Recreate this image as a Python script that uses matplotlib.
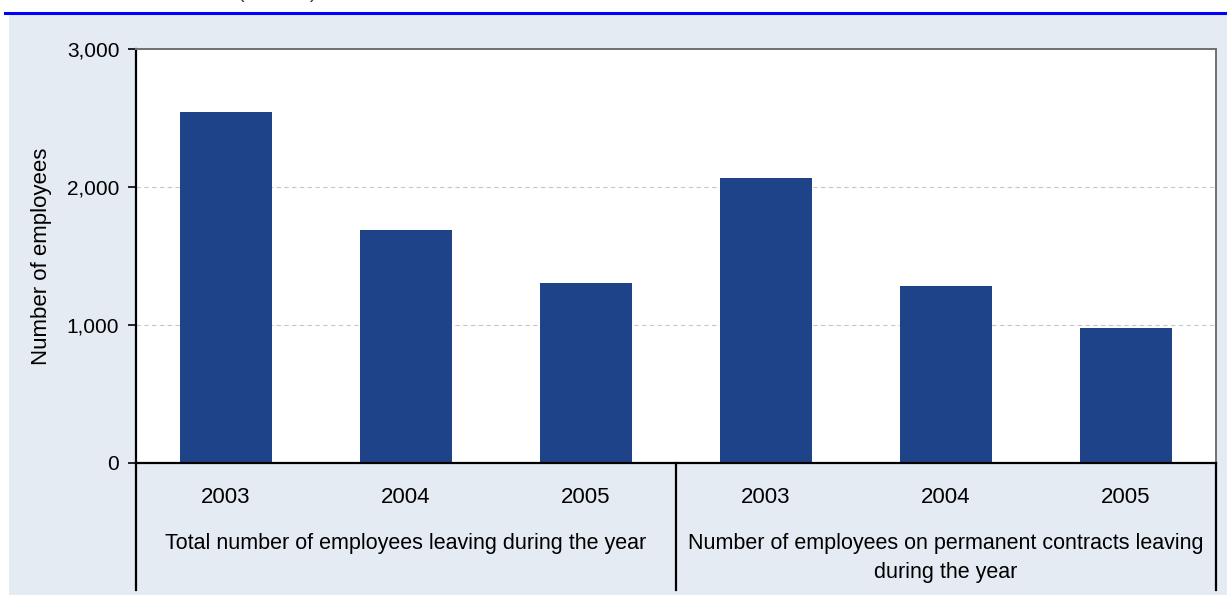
import matplotlib
matplotlib.use("Agg")
import matplotlib.pyplot as plt
from matplotlib.patches import Rectangle
from matplotlib.lines import Line2D
from matplotlib.ticker import FuncFormatter

plt.rcParams['font.family'] = ['Liberation Sans', 'DejaVu Sans']

years = ["2003", "2004", "2005", "2003", "2004", "2005"]
values = [2540, 1690, 1305, 2065, 1280, 980]
groups = ["Total number of employees leaving during the year",
          "Number of employees on permanent contracts leaving\nduring the year"]
y_label = "Number of employees"
y_ticks = [0, 1000, 2000, 3000]

W, H = 1227, 595
fig = plt.figure(figsize=(W / 100, H / 100), dpi=100)
fig.patch.set_facecolor('white')

# background panel and top blue rule
fig.add_artist(Rectangle((9 / W, 0), 1 - 9 / W, (H - 14) / H, transform=fig.transFigure,
                         facecolor='#E5EBF3', edgecolor='none', zorder=0))
fig.add_artist(Line2D([5 / W, 1], [1 - 13 / H, 1 - 13 / H], transform=fig.transFigure,
                      color='#0000FF', lw=2.2, zorder=1))
fig.text(238 / W, 1 + 1.5 / H, "(number)", fontsize=14, ha='left', va='baseline', color='#333333')

left, right, top, bottom = 136, 1216, 49, 463
ax = fig.add_axes([left / W, 1 - bottom / H, (right - left) / W, (bottom - top) / H])
ax.set_facecolor('white')

x = list(range(len(values)))
ax.bar(x, values, width=0.51, color='#1F4388', zorder=3)
ax.set_xlim(-0.5, len(values) - 0.5)
ax.set_ylim(0, 3000)
ax.set_yticks(y_ticks)
ax.yaxis.set_major_formatter(FuncFormatter(lambda v, p: f"{int(v):,}"))
ax.tick_params(axis='y', direction='out', length=6, width=1.2, labelsize=15, pad=6, colors='black')
ax.set_xticks(x)
ax.set_xticklabels(years)
ax.tick_params(axis='x', length=0, labelsize=16, pad=17)
ax.grid(axis='y', color='#C8C8C8', linestyle=(0, (4, 3)), lw=0.8, zorder=0)

for s in ['left', 'bottom']:
    ax.spines[s].set_color('black')
    ax.spines[s].set_linewidth(1.6)
ax.spines['bottom'].set_zorder(5)
for s in ['top', 'right']:
    ax.spines[s].set_color('#707070')
    ax.spines[s].set_linewidth(1.4)

ax.set_ylabel(y_label, fontsize=16, labelpad=11)

# group separators under the axis
tr = ax.get_xaxis_transform()
ext = -(590 - bottom) / (bottom - top)
for xv in [-0.5, 2.5, len(values) - 0.5]:
    ax.plot([xv, xv], [0, ext], transform=tr, color='black', lw=1.6, clip_on=False, zorder=5)

gy = -(533 - bottom) / (bottom - top)
ax.text(1, gy, groups[0], transform=tr, ha='center', va='top', fontsize=15.5, linespacing=1.5)
ax.text(4, gy, groups[1], transform=tr, ha='center', va='top', fontsize=15.5, linespacing=1.5)

fig.savefig("out.png", dpi=100, facecolor=fig.get_facecolor())
